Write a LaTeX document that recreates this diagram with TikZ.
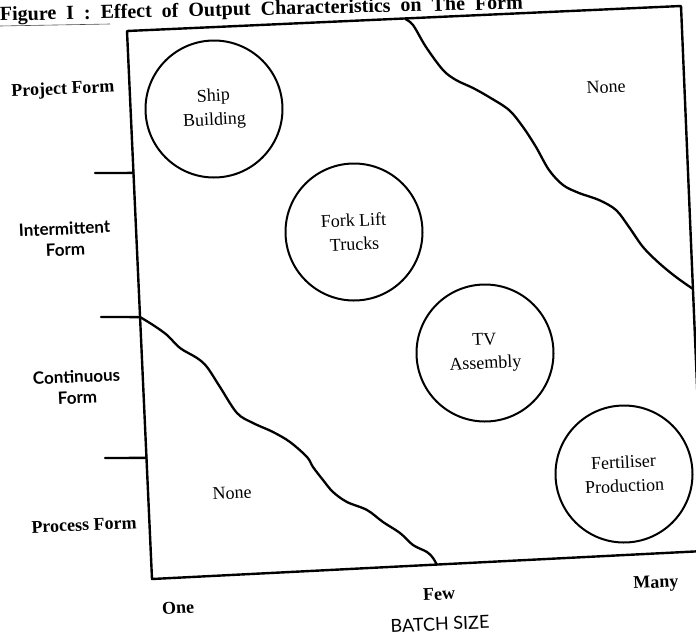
\documentclass[tikz,border=0pt]{standalone}
\usepackage{fontspec}
\setmainfont{Liberation Serif}
\newfontfamily\humfont{Lato}
\usetikzlibrary{calc}
\newcommand\titlespace{\spaceskip=10pt\relax}
\tikzset{
	lbl/.style={font=\fontsize{18}{24}\selectfont, align=center, rotate=2.6, inner sep=0pt},
	blbl/.style={lbl, font=\fontsize{18}{24}\selectfont\bfseries},
	hlbl/.style={lbl, font=\fontsize{17}{21}\selectfont\humfont\bfseries},
	unit/.style={circle, draw, line width=2pt, minimum size=137pt, inner sep=0pt, align=center, font=\fontsize{18}{24}\selectfont, rotate=2.6},
	edge/.style={line width=2.4pt, line join=round, line cap=round},
	wave/.style={line width=2.3pt, smooth, tension=0.55},
}

\begin{document}
\begin{tikzpicture}[x=1pt, y=-1pt]
			%%%%% START %%%%%
			\useasboundingbox (0, 0) rectangle (696, 638);
			\clip (0, 0) rectangle (696, 638);
			
			\node[anchor=base west, inner sep=0pt, rotate=1.3, font=\fontsize{20}{22}\selectfont\bfseries\titlespace] (title) at (0, 21) {Figure I : Effect of Output Characteristics on The Form};
			\draw[line width=0.6pt, color=black!70] (0, 26) -- (110, 24);
			
			% frame
			\coordinate (tl) at (127, 31);
			\coordinate (tr) at (681, 6);
			\coordinate (br) at (704, 551);
			\coordinate (bl) at (152, 579);
			\draw[edge] (tr) -- (tl) -- (bl) -- (br) -- (tr);
			
			% ticks on the left side
			\coordinate (t1) at (95, 173);
			\coordinate (t2) at (101, 317);
			\coordinate (t3) at (105, 458);
			\draw[edge] (t1) -- ($(tl)!0.259!(bl)$);
			\draw[edge] (t2) -- ($(tl)!0.522!(bl)$) coordinate (w1);
			\draw[edge] (t3) -- ($(tl)!0.779!(bl)$);
			
			% dividing lines
			\draw[wave] plot coordinates {(405, 19) (413, 25) (426, 47) (443, 70) (456, 80) (473, 88) (489, 97) (509, 110) (523, 127) (536, 147) (549, 170) (563, 185) (579, 193) (599, 200) (616, 210) (629, 227) (643, 247) (659, 263) (676, 277) (693, 289)};
			\draw[wave] plot coordinates {(w1) (153, 325) (167, 335) (180, 348) (197, 358) (207, 367) (220, 387) (237, 413) (253, 423) (273, 432) (290, 442) (307, 457) (313, 467) (323, 480) (333, 492) (347, 502) (367, 510) (383, 522) (400, 533) (413, 545) (427, 552) (433, 558) (437, 565)};
			
			\node[unit] (ship) at (214, 109) {Ship\\Building};
			\node[unit] (fork) at (354, 232) {Fork Lift\\Trucks};
			\node[unit] (tv) at (485, 353) {TV\\Assembly};
			\node[unit] (fert) at (624, 474) {Fertiliser\\Production};
			
			\node[blbl] (project) at (63, 90) {Project Form};
			\node[hlbl] (intermittent) at (65, 239) {Intermittent\\Form};
			\node[hlbl] (continuous) at (77, 387) {Continuous\\Form};
			\node[blbl] (process) at (84, 525) {Process Form};
			
			\node[lbl] (nonetop) at (606, 87) {None};
			\node[lbl] (nonelow) at (232, 493) {None};
			
			\node[blbl] (one) at (178, 608) {One};
			\node[blbl] (few) at (439, 594) {Few};
			\node[blbl] (many) at (656, 584) {Many};
			\node[lbl, font=\fontsize{18}{22}\selectfont\humfont] (batch) at (440, 624) {BATCH SIZE};
			
			%%%%% END %%%%%
		\end{tikzpicture}
\end{document}
